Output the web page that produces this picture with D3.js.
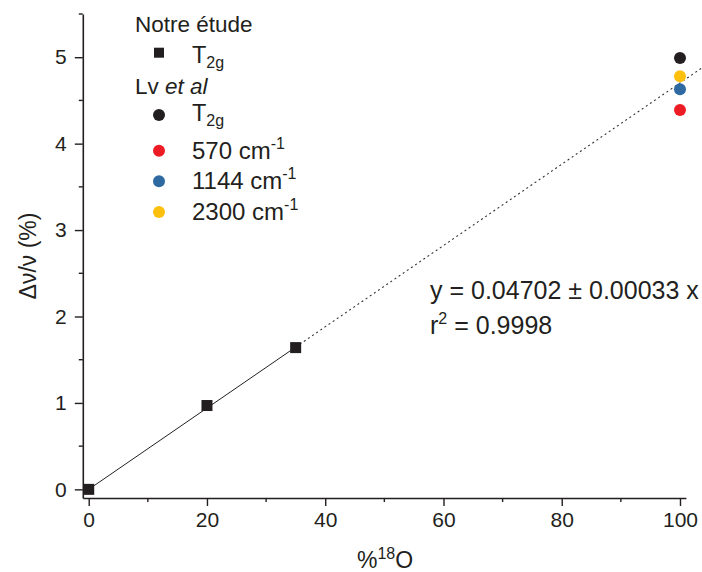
<!DOCTYPE html>
<html><head><meta charset="utf-8">
<script src="https://cdn.jsdelivr.net/npm/d3@7"></script>
<style>body{margin:0;background:#fff}svg{display:block}text{font-family:"Liberation Sans",Arial,sans-serif;fill:#231f20}</style>
</head><body><svg id="c" width="702" height="572"></svg>
<script>
// Data
const ourX = [0, 20, 35];
const ourY = [0, 0.97, 1.64];
const lvX = [100, 100, 100, 100];
const lvY = [4.99, 4.39, 4.63, 4.78];
const lvLabels = ["T2g", "570 cm-1", "1144 cm-1", "2300 cm-1"];
const lvColors = ["#231f20", "#ed1c24", "#2e6aa1", "#fdc00f"];
const slope = 0.04702;
const fitSolid = [0, 35];
const fitDotted = [35, 104.5];
const xTicks = [0, 20, 40, 60, 80, 100];
const xMinor = [10, 30, 50, 70, 90];
const yTicks = [0, 1, 2, 3, 4, 5];
const yMinor = [0.5, 1.5, 2.5, 3.5, 4.5, 5.5];

const svg = d3.select("#c");
const x = d3.scaleLinear().domain([-1, 101]).range([82.8, 685.9]);
const y = d3.scaleLinear().domain([-0.1, 5.5]).range([498, 14]);
const ink = "#231f20";

// axes
const xAxis = svg.append("g").attr("transform", "translate(0," + y(-0.1) + ")")
  .call(d3.axisBottom(x).tickValues(xTicks).tickSize(8).tickSizeOuter(0).tickPadding(6).tickFormat(d3.format("d")));
xAxis.append("g").selectAll("line").data(xMinor).join("line")
  .attr("x1", d => x(d)).attr("x2", d => x(d)).attr("y1", 0).attr("y2", 4);
const yAxis = svg.append("g").attr("transform", "translate(" + x(-1) + ",0)")
  .call(d3.axisLeft(y).tickValues(yTicks).tickSize(8).tickSizeOuter(0).tickPadding(8).tickFormat(d3.format("d")));
yAxis.append("g").selectAll("line").data(yMinor).join("line")
  .attr("x1", 0).attr("x2", -4).attr("y1", d => y(d)).attr("y2", d => y(d));
[xAxis, yAxis].forEach(g => {
  g.selectAll("path").attr("stroke", ink).attr("stroke-width", 1.6);
  g.selectAll("line").attr("stroke", ink).attr("stroke-width", 1.4);
  g.selectAll("text").style("font-size", "21px").attr("fill", ink);
});
xAxis.selectAll(".tick text").attr("dy", "0.71em");

// fit lines
svg.append("line").attr("x1", x(fitSolid[0])).attr("y1", y(slope * fitSolid[0]))
  .attr("x2", x(fitSolid[1])).attr("y2", y(slope * fitSolid[1]))
  .attr("stroke", ink).attr("stroke-width", 1);
svg.append("line").attr("x1", x(fitDotted[0])).attr("y1", y(slope * fitDotted[0]))
  .attr("x2", x(fitDotted[1])).attr("y2", y(slope * fitDotted[1]))
  .attr("stroke", "#333").attr("stroke-width", 1.1).attr("stroke-dasharray", "2,3");

// our data squares
const sq = 11;
svg.append("g").selectAll("rect").data(ourX.map((d, i) => [d, ourY[i]])).join("rect")
  .attr("x", d => x(d[0]) - sq / 2).attr("y", d => y(d[1]) - sq / 2)
  .attr("width", sq).attr("height", sq).attr("fill", ink);

// Lv circles
svg.append("g").selectAll("circle").data(lvX.map((d, i) => [d, lvY[i], lvColors[i]])).join("circle")
  .attr("cx", d => x(d[0])).attr("cy", d => y(d[1])).attr("r", 6).attr("fill", d => d[2]);

// legend
const lg = svg.append("g");
const fs = 22.5;
lg.append("text").attr("x", 135).attr("y", 32).style("font-size", fs + "px").text("Notre étude");
lg.append("rect").attr("x", 159 - 5).attr("y", 52.7 - 5).attr("width", 10).attr("height", 10).attr("fill", ink);
function t2g(xp, yb) {
  const t = lg.append("text").attr("x", xp).attr("y", yb).style("font-size", "23.5px");
  t.append("tspan").text("T");
  t.append("tspan").attr("dy", 5).style("font-size", "16px").text("2g");
}
t2g(192, 62.5);
const lv = lg.append("text").attr("x", 135).attr("y", 94).style("font-size", fs + "px");
lv.append("tspan").text("Lv ");
lv.append("tspan").style("font-style", "italic").text("et al");
const rowY = [115, 150.7, 181.3, 212];
lvLabels.forEach((lab, i) => {
  lg.append("circle").attr("cx", 159).attr("cy", rowY[i]).attr("r", 6).attr("fill", lvColors[i]);
  if (i === 0) { t2g(192, rowY[i] + 6); return; }
  const parts = lab.split("-");
  const t = lg.append("text").attr("x", 192).attr("y", rowY[i] + 8).style("font-size", "24px");
  t.append("tspan").text(parts[0]);
  t.append("tspan").attr("dy", -10).style("font-size", "16px").text("-" + parts[1]);
});

// equation
const eq = svg.append("g");
eq.append("text").attr("x", 430).attr("y", 299).style("font-size", "25px").text("y = 0.04702 ± 0.00033 x");
const r2 = eq.append("text").attr("x", 430).attr("y", 334).style("font-size", "25px");
r2.append("tspan").text("r");
r2.append("tspan").attr("dy", -10).style("font-size", "16px").text("2");
r2.append("tspan").attr("dy", 10).text(" = 0.9998");

// axis titles
const xt = svg.append("text").attr("x", 385).attr("y", 568).attr("text-anchor", "middle").style("font-size", "23px");
xt.append("tspan").text("%");
xt.append("tspan").attr("dy", -9).style("font-size", "16px").text("18");
xt.append("tspan").attr("dy", 9).text("O");
svg.append("text").attr("transform", "translate(36,256) rotate(-90)").attr("text-anchor", "middle")
  .style("font-size", "23px").text("Δν/ν (%)");
</script></body></html>
